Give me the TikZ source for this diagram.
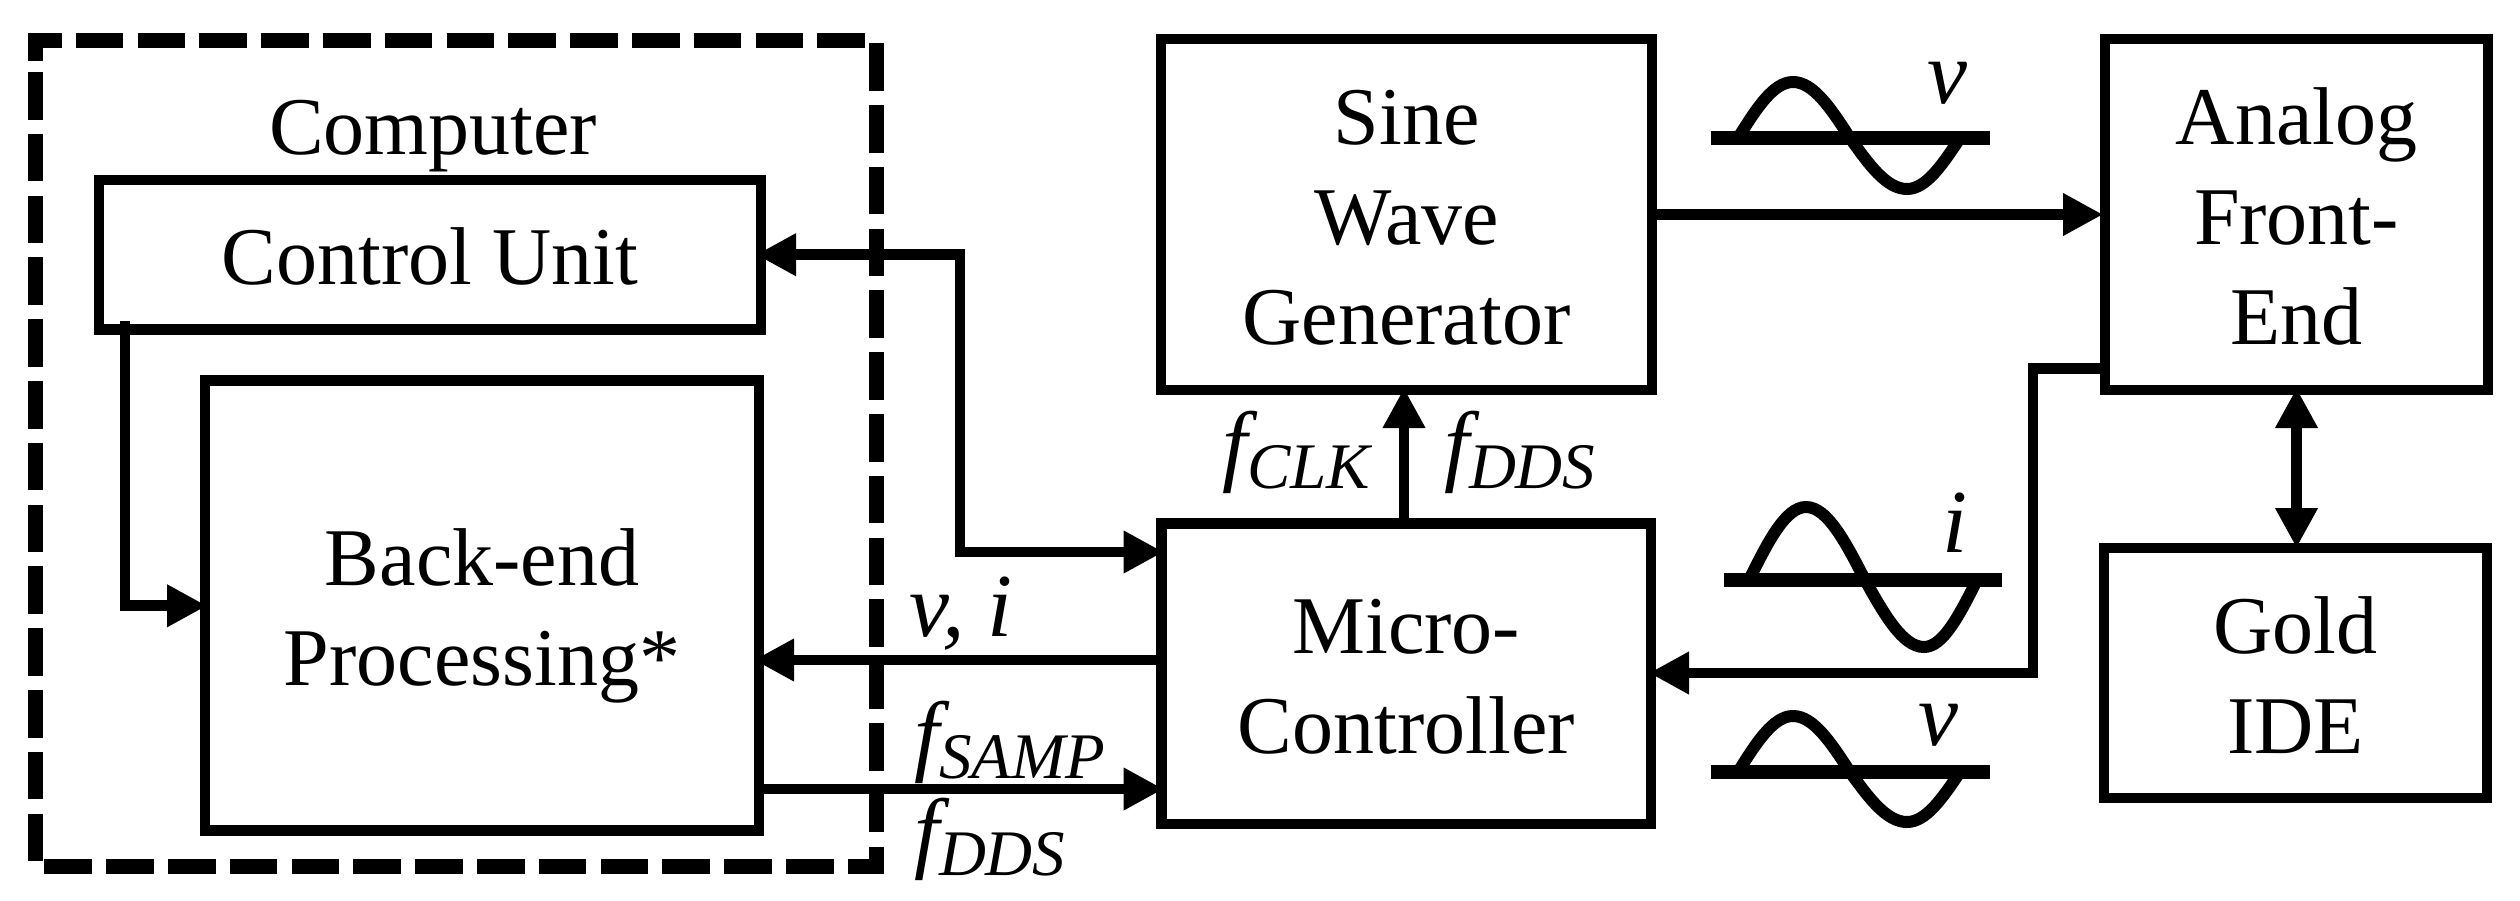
\documentclass[tikz,border=0pt]{standalone}
\usepackage{fontspec}
\setmainfont{Liberation Serif}
\usetikzlibrary{arrows.meta}
\newcommand{\st}{\rule[-10pt]{0pt}{50pt}}
\newcommand{\flab}[2]{{\fontsize{45}{50}\selectfont\itshape #1\raisebox{-7pt}{\fontsize{32.5}{32}\selectfont #2}}}
\newcommand{\sinewave}[7]{%
  \draw[wave] (#1,#2) sin (#3,#5) cos (#4,#2) sin ({#4+(#4-#3)},#6) cos (#7,#2);}
\tikzset{
  blk/.style={draw,line width=5.4pt,outer sep=0pt,inner sep=0pt,align=center,
    font=\fontsize{41}{50}\selectfont,line join=miter},
  txt/.style={inner sep=0pt,outer sep=0pt,font=\fontsize{41}{50}\selectfont},
  sym/.style={inner sep=0pt,outer sep=0pt,anchor=base west,font=\fontsize{45}{50}\selectfont\itshape},
  lnk/.style={line width=5.4pt,line join=miter,-{Triangle[length=20pt,width=20pt]}},
  both/.style={line width=5.4pt,{Triangle[length=20pt,width=20pt]}-{Triangle[length=20pt,width=20pt]}},
  dashbox/.style={line width=7.5pt,dash pattern=on 23.8pt off 7.1pt,line join=miter},
  wave/.style={line width=6pt},
  axisbar/.style={line width=7.2pt}
}
\begin{document}
\begin{tikzpicture}[x=0.5pt,y=-0.5pt]
\path[use as bounding box] (0,0) rectangle (2520,900);
% dashed computer boundary
\draw[dashbox] (35,61) -- (35,40) -- (876,40) -- (876,866) -- (35,866) -- (35,61);
% blocks
\node[blk,minimum width=331pt,minimum height=74.75pt] (cu) at (430,254.7) {\st Control Unit};
\node[blk,minimum width=277pt,minimum height=225pt] (be) at (482,605.8) {\st Back-end\\\st Processing*};
\node[blk,minimum width=244.7pt,minimum height=150.25pt] (mc) at (1406.3,673.75) {\st Micro-\\\st Controller};
\node[blk,minimum width=245.5pt,minimum height=175.5pt] (sg) at (1406.5,214.5) {\st Sine\\\st Wave\\\st Generator};
\node[blk,minimum width=191.5pt,minimum height=175.5pt] (af) at (2296.5,214.5) {\st Analog\\\st Front-\\\st End};
\node[blk,minimum width=191.5pt,minimum height=125pt] (go) at (2295.5,673) {\st Gold\\\st IDE};
\node[txt,anchor=base] (comp) at (433,154) {Computer};
% connectors
\coordinate (b1) at (960,254.7);
\coordinate (b2) at (960,552);
\draw[both,shorten <=-2.5pt,shorten >=-1pt] (cu.east) -- (b1) -- (b2) -- (mc.west |- b2);
\coordinate (b3) at (125,321);
\coordinate (b4) at (125,605.8);
\draw[lnk,shorten >=-1pt] (b3) -- (b4) -- (be.west);
\coordinate (y1) at (0,660);
\coordinate (y2) at (0,789);
\draw[lnk,shorten >=-2.5pt] (mc.west |- y1) -- (be.east |- y1);
\draw[lnk,shorten >=-1pt] (be.east |- y2) -- (mc.west |- y2);
\draw[lnk,shorten >=1pt] (sg.east) -- (af.west);
\coordinate (b5) at (2033,368.5);
\coordinate (b6) at (2033,673);
\draw[lnk,shorten >=-1pt] (af.west |- b5) -- (b5) -- (b6) -- (mc.east |- b6);
\draw[lnk,shorten >=-1pt] (mc.north -| 1404,0) -- (sg.south -| 1404,0);
\draw[both,shorten <=-1pt] (af.south) -- (go.north -| af.south);
% sine symbols
\draw[axisbar] (1711,138) -- (1989.5,138);
\sinewave{1738}{138}{1793}{1850}{82}{189}{1960}
\draw[axisbar] (1724,580) -- (2002,580);
\sinewave{1749}{580}{1806}{1865}{507}{647}{1977}
\draw[axisbar] (1711,772) -- (1989.5,772);
\sinewave{1738}{772}{1793}{1850}{716}{822}{1960}
% labels
\node[sym] (v1) at (1927,103) {v};
\node[sym] (i1) at (1942,552) {i};
\node[sym] (v2) at (1918,745) {v};
\node[sym] (vi) at (909,636) {v, i};
\node[sym] (fclk) at (1222,474) {\flab{f}{CLK}};
\node[sym] (fdds) at (1444,474) {\flab{f}{DDS}};
\node[sym] (fsamp) at (914,764) {\flab{f}{SAMP}};
\node[sym] (fdds2) at (914,861) {\flab{f}{DDS}};
\end{tikzpicture}
\end{document}
